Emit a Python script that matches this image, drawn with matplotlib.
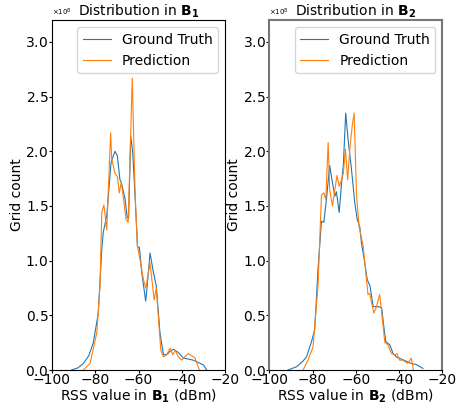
import numpy as np
import matplotlib as mpl
mpl.use('Agg')
import matplotlib.pyplot as plt

# RSS distribution, values in units of 1e8 grid cells
gt1_x = [-91, -88, -85.5, -83, -80.9, -78.6, -77, -76.3, -74.7, -72.7, -70.9, -69.8, -68.6, -68,
         -66.2, -65.2, -64.6, -63.6, -62.7, -61.6, -60.5, -59.6, -58.5, -56.7, -56, -54.7, -53.1,
         -51.8, -50.1, -48.5, -47, -45.5, -43.9, -41.6, -39.3, -34.7, -30, -28.5]
gt1_y = [0, 0.02, 0.06, 0.13, 0.25, 0.52, 1.1, 1.26, 1.41, 1.9, 2.0, 1.96, 1.74, 1.72,
         1.56, 1.39, 1.39, 2.14, 1.99, 1.59, 1.13, 1.12, 0.89, 0.63, 0.77, 1.07, 0.89,
         0.77, 0.34, 0.14, 0.14, 0.17, 0.19, 0.16, 0.11, 0.09, 0.046, 0]
pr1_x = [-85.5, -82.4, -79.3, -77.8, -77, -76, -74.7, -72.9, -72.4, -70.9, -69.8, -68.9, -68,
         -66.9, -65.8, -64.8, -62.9, -61.6, -60.5, -59.3, -57.8, -56.6, -54.7, -52.8, -51.8,
         -50.3, -49.7, -48.5, -47, -45.4, -44.2, -43.1, -41.6, -40.1, -37, -33.9, -31.9]
pr1_y = [0, 0.06, 0.34, 0.77, 1.44, 1.51, 1.28, 2.17, 1.93, 1.8, 1.77, 1.62, 1.72,
         1.56, 1.38, 1.35, 2.67, 1.62, 1.13, 1.01, 0.83, 0.75, 0.98, 0.64, 0.75,
         0.34, 0.18, 0.12, 0.14, 0.2, 0.14, 0.18, 0.12, 0.09, 0.15, 0.11, 0]

gt2_x = [-91.3, -87.4, -84.5, -82.8, -80.5, -79, -77.5, -75.9, -74.8, -73.6, -72.1, -70.8, -69.7,
         -69, -67.7, -66.6, -65.8, -64.7, -63.6, -62, -60.5, -59.4, -58.2, -57.4, -55.9, -54.8,
         -53.5, -52, -49.7, -48.1, -47.1, -46.2, -44.3, -42.8, -41.3, -39, -36.7, -34.4,
         -32.1, -29]
gt2_y = [0, 0.03, 0.08, 0.12, 0.26, 0.37, 0.92, 1.36, 1.35, 1.56, 1.87, 1.71, 1.59,
         1.63, 1.44, 1.71, 1.87, 2.35, 2.11, 1.83, 1.53, 1.38, 1.31, 1.16, 0.98, 0.83,
         0.77, 0.58, 0.58, 0.57, 0.4, 0.26, 0.23, 0.15, 0.12, 0.1, 0.08, 0.06,
         0.05, 0.015]
pr2_x = [-84.4, -82.1, -79.8, -77.5, -75.9, -74.8, -73.9, -72.8, -72.1, -70.8, -69.7, -68.7,
         -67.7, -66.6, -65.8, -64.8, -63.8, -62.8, -61.7, -60.8, -59.7, -58.5, -56.6, -55.4,
         -54.4, -53.6, -51.7, -50.5, -49, -48.2, -46.6, -45.1, -43.6, -42, -41, -39.8,
         -38.3, -36, -34.4, -33.4]
pr2_y = [0, 0.09, 0.21, 0.77, 1.6, 1.62, 1.56, 2.08, 1.65, 1.5, 1.65, 1.78,
         1.68, 1.74, 1.8, 2.02, 1.74, 2.02, 2.23, 2.35, 1.6, 1.31, 1.13, 0.89,
         0.69, 0.7, 0.52, 0.58, 0.69, 0.55, 0.25, 0.23, 0.15, 0.14, 0.15, 0.09,
         0.09, 0.06, 0.11, 0]

scale = 1e8
fs = 10

fig = plt.figure(figsize=(4.58, 4.05), dpi=100)
ax1 = fig.add_axes([0.1135, 0.0864, 0.378, 0.864])
ax2 = fig.add_axes([0.588, 0.0864, 0.378, 0.864])

panels = [(ax1, gt1_x, gt1_y, pr1_x, pr1_y, '1'), (ax2, gt2_x, gt2_y, pr2_x, pr2_y, '2')]
for ax, gx, gy, px, py, b in panels:
    ax.plot(gx, np.array(gy) * scale, color='#1f77b4', lw=0.8, label='Ground Truth')
    ax.plot(px, np.array(py) * scale, color='#ff7f0e', lw=0.8, label='Prediction')
    ax.set_xlim(-100, -20)
    ax.set_ylim(0, 3.2 * scale)
    ax.set_xticks([-100, -80, -60, -40, -20])
    ax.set_yticks(np.arange(0, 3.01, 0.5) * scale)
    ax.ticklabel_format(axis='y', style='sci', scilimits=(0, 0), useMathText=True)
    ax.yaxis.get_offset_text().set_fontsize(5)
    ax.tick_params(labelsize=fs, length=2, pad=0.5)
    ax.set_title(r'Distribution in $\mathbf{B_%s}$' % b, fontsize=fs, pad=2)
    ax.set_xlabel(r'RSS value in $\mathbf{B_%s}$ (dBm)' % b, fontsize=fs, labelpad=0)
    ax.set_ylabel('Grid count', fontsize=fs, labelpad=1)
    ax.legend(loc='upper right', fontsize=fs)

for s in ['top', 'left', 'right']:
    ax2.spines[s].set_color('#777777')
    ax2.spines[s].set_linewidth(1.5)

fig.savefig('out.png', dpi=100)
